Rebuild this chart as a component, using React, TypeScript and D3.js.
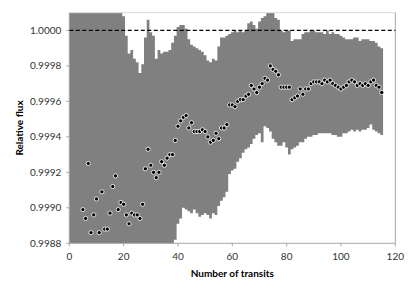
import React from 'react';
import * as d3 from 'd3';

// Observed relative flux for transits 5..115
const firstTransit = 5;
const fluxValues = [
  0.99899, 0.99894, 0.99925, 0.99886, 0.99896, 0.99905, 0.99886, 0.99909, 0.99888, 0.99888,
  0.99897, 0.99912, 0.99918, 0.99899, 0.99903, 0.99902, 0.99896, 0.99891, 0.99897, 0.99896,
  0.99896, 0.99894, 0.99902, 0.99922, 0.99933, 0.99924, 0.99920, 0.99917, 0.99920, 0.99926,
  0.99924, 0.99928, 0.99930, 0.99930, 0.99938, 0.99946, 0.99949, 0.99951, 0.99952, 0.99945,
  0.99948, 0.99943, 0.99943, 0.99943, 0.99944, 0.99943, 0.99940, 0.99937, 0.99938, 0.99942,
  0.99939, 0.99945, 0.99945, 0.99947, 0.99958, 0.99958, 0.99957, 0.99960, 0.99961, 0.99961,
  0.99963, 0.99964, 0.99969, 0.99967, 0.99965, 0.99968, 0.99970, 0.99973, 0.99972, 0.99980,
  0.99978, 0.99977, 0.99975, 0.99968, 0.99968, 0.99968, 0.99968, 0.99961, 0.99962, 0.99963,
  0.99967, 0.99964, 0.99967, 0.99967, 0.99970, 0.99971, 0.99971, 0.99971, 0.99970, 0.99972,
  0.99971, 0.99972, 0.99970, 0.99969, 0.99968, 0.99967, 0.99968, 0.99969, 0.99971, 0.99972,
  0.99971, 0.99969, 0.99970, 0.99969, 0.99970, 0.99969, 0.99971, 0.99972, 0.99969, 0.99968,
  0.99965,
];

// Envelope (grey band) per transit 0..115
const bandUpper = [
  1.0003, 1.0003, 1.0003, 1.0003, 1.0003, 1.0003, 1.0003, 1.0003, 1.0003, 1.0003,
  1.0003, 1.0003, 1.0003, 1.0003, 1.0003, 1.0003, 1.0003, 1.0003, 1.0003, 1.0003,
  1.00008, 0.99997, 0.99987, 0.99989, 0.99984, 0.99982, 0.99976, 0.99981, 0.99996, 1.00006,
  0.99999, 0.99997, 0.99984, 0.99989, 0.99987, 0.99988, 0.99988, 0.99989, 0.99993, 0.99997,
  1.00002, 1.00003, 1.00003, 1.00001, 0.99995, 0.99992, 0.99991, 0.9999, 0.99989, 0.99988,
  0.99986, 0.99983, 0.99982, 0.99984, 0.99983, 0.99991, 0.99996, 0.99996, 0.99997, 0.99998,
  0.99999, 1.0, 0.99999, 1.0, 0.99999, 1.0, 1.00004, 1.00005, 1.00003, 1.00001,
  1.00005, 1.00007, 1.00008, 1.0001, 1.0001, 1.0001, 1.00007, 1.00006, 1.0, 0.99999,
  1.0, 1.0, 0.99994, 0.99995, 0.99995, 0.99995, 0.99998, 0.99999, 0.99999, 1.0,
  1.0, 0.99999, 0.99999, 0.99999, 0.99998, 1.0, 0.99998, 0.99999, 0.99998, 0.99998,
  0.99997, 0.99996, 0.99995, 0.99995, 0.99995, 0.99996, 0.99996, 0.99994, 0.99995, 0.99995,
  0.99995, 0.99994, 0.99994, 0.99993, 0.99991, 0.9999,
];
const bandLower = [
  0.9985, 0.9985, 0.9985, 0.9985, 0.9985, 0.9985, 0.9985, 0.9985, 0.9985, 0.9985,
  0.9985, 0.9985, 0.9985, 0.9985, 0.9985, 0.9985, 0.9985, 0.9985, 0.9985, 0.9985,
  0.9985, 0.9985, 0.9985, 0.9985, 0.9985, 0.9985, 0.9985, 0.9985, 0.9985, 0.9985,
  0.9985, 0.9985, 0.9985, 0.9985, 0.9985, 0.9985, 0.9985, 0.9985, 0.9985, 0.99882,
  0.99891, 0.99894, 0.999, 0.99899, 0.99898, 0.99897, 0.99899, 0.99897, 0.99895, 0.99896,
  0.99897, 0.99896, 0.99894, 0.99897, 0.99896, 0.99901, 0.99904, 0.99906, 0.99909, 0.99919,
  0.99921, 0.99922, 0.99926, 0.99928, 0.99931, 0.99933, 0.99934, 0.99936, 0.99939, 0.99941,
  0.99942, 0.99937, 0.99946, 0.99945, 0.99943, 0.99939, 0.99937, 0.99935, 0.99935, 0.99937,
  0.99934, 0.9993, 0.99933, 0.99934, 0.99935, 0.99937, 0.99937, 0.99939, 0.9994, 0.9994,
  0.99941, 0.99941, 0.99942, 0.99942, 0.99942, 0.99942, 0.99942, 0.99941, 0.99941, 0.9994,
  0.9994, 0.99942, 0.99942, 0.99943, 0.99944, 0.99943, 0.99944, 0.99943, 0.99944, 0.99944,
  0.99945, 0.99947, 0.99944, 0.99943, 0.99942, 0.99941,
];

const xTicks = [0, 20, 40, 60, 80, 100, 120];
const yTicks = [0.9988, 0.999, 0.9992, 0.9994, 0.9996, 0.9998, 1.0];
const referenceLevel = 1.0;

const W = 415;
const H = 293;
const L = 69.3;
const R = 395.3;
const T = 12.7;
const B = 243.3;
const FONT = 'Lato, "Open Sans", sans-serif';

export default function App() {
  const x = d3.scaleLinear().domain([0, 120]).range([L, R]);
  const y = d3.scaleLinear().domain([0.9988, 1.0001]).range([B, T]);

  const bandPts: { n: number; lo: number; hi: number }[] = [];
  bandUpper.forEach((hi, i) => {
    const lo = bandLower[i];
    bandPts.push({ n: i - 0.5, lo, hi });
    bandPts.push({ n: i + 0.5, lo, hi });
  });
  const area = d3
    .area<{ n: number; lo: number; hi: number }>()
    .x((d) => x(d.n))
    .y0((d) => y(d.lo))
    .y1((d) => y(d.hi));

  const points = fluxValues.map((v, i) => ({ n: firstTransit + i, v }));

  return (
    <svg
      width={W}
      height={H}
      style={{ position: 'absolute', left: 0, top: 0, background: '#fff' }}
    >
      <defs>
        <clipPath id="plot">
          <rect x={L} y={T} width={R - L} height={B - T} />
        </clipPath>
      </defs>
      <rect x={0} y={0} width={W} height={H} fill="#fff" />
      <g clipPath="url(#plot)">
        <path d={area(bandPts) || ''} fill="#808080" />
      </g>
      {/* frame */}
      <line x1={L} x2={R} y1={T} y2={T} stroke="#d9d9d9" strokeWidth={1} />
      <line x1={R} x2={R} y1={T} y2={B} stroke="#a6a6a6" strokeWidth={1} />
      <line x1={L} x2={L} y1={T} y2={B} stroke="#a6a6a6" strokeWidth={1} />
      <line x1={L} x2={R} y1={B} y2={B} stroke="#a6a6a6" strokeWidth={1} />
      {/* reference line */}
      <line
        x1={L}
        x2={R}
        y1={y(referenceLevel)}
        y2={y(referenceLevel)}
        stroke="#000"
        strokeWidth={1.3}
        strokeDasharray="4,2.5"
      />
      {/* points */}
      {points.map((p) => (
        <circle
          key={p.n}
          cx={x(p.n)}
          cy={y(p.v)}
          r={2.1}
          fill="#000"
          stroke="#f2f2f2"
          strokeWidth={0.9}
        />
      ))}
      {/* y axis */}
      {yTicks.map((t) => (
        <g key={t}>
          <line x1={L - 3} x2={L} y1={y(t)} y2={y(t)} stroke="#a6a6a6" />
          <text
            x={L - 8}
            y={y(t)}
            dy="0.35em"
            textAnchor="end"
            fontFamily={FONT}
            fontSize={10}
            fill="#333"
          >
            {d3.format('.4f')(t)}
          </text>
        </g>
      ))}
      {/* x axis */}
      {xTicks.map((t) => (
        <g key={t}>
          <line x1={x(t)} x2={x(t)} y1={B} y2={B + 3} stroke="#a6a6a6" />
          <text
            x={x(t)}
            y={B + 17}
            textAnchor="middle"
            fontFamily={FONT}
            fontSize={10}
            fill="#333"
          >
            {t}
          </text>
        </g>
      ))}
      <text
        x={(L + R) / 2}
        y={276.5}
        textAnchor="middle"
        fontFamily={FONT}
        fontSize={10}
        fontWeight="bold"
        fill="#000"
      >
        Number of transits
      </text>
      <text
        transform={`translate(23,${(T + B) / 2}) rotate(-90)`}
        textAnchor="middle"
        fontFamily={FONT}
        fontSize={10}
        fontWeight="bold"
        fill="#000"
      >
        Relative flux
      </text>
    </svg>
  );
}
